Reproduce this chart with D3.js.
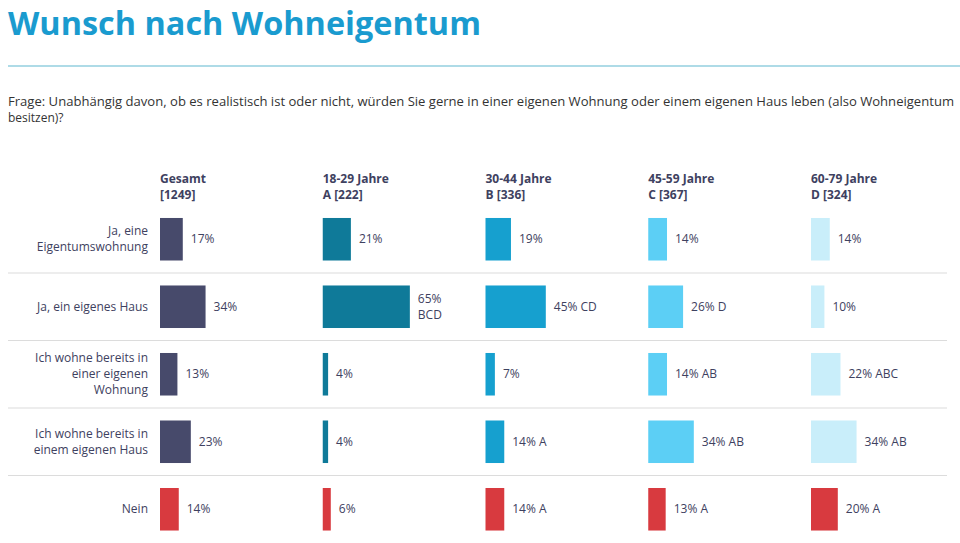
<!DOCTYPE html>
<html><head><meta charset="utf-8">
<script src="https://cdn.jsdelivr.net/npm/d3@7"></script>
<style>body{margin:0;background:#fff;} svg{display:block;}</style>
</head><body>
<script>
const title = "Wunsch nach Wohneigentum";
const question = ["Frage: Unabhängig davon, ob es realistisch ist oder nicht, würden Sie gerne in einer eigenen Wohnung oder einem eigenen Haus leben (also Wohneigentum", "besitzen)?"];
const categories = ["Ja, eine|Eigentumswohnung", "Ja, ein eigenes Haus", "Ich wohne bereits in|einer eigenen|Wohnung", "Ich wohne bereits in|einem eigenen Haus", "Nein"];
const groups = ["Gesamt", "18-29 Jahre", "30-44 Jahre", "45-59 Jahre", "60-79 Jahre"];
const groupSub = ["[1249]", "A [222]", "B [336]", "C [367]", "D [324]"];
const valGesamt = [17, 34, 13, 23, 14];
const valA = [21, 65, 4, 4, 6];
const valB = [19, 45, 7, 14, 14];
const valC = [14, 26, 14, 34, 13];
const valD = [14, 10, 22, 34, 20];
const sigGesamt = ["", "", "", "", ""];
const sigA = ["", "BCD", "", "", ""];
const sigB = ["", "CD", "", "A", "A"];
const sigC = ["", "D", "AB", "AB", "A"];
const sigD = ["", "", "ABC", "AB", "A"];

const series = [valGesamt, valA, valB, valC, valD];
const sigs = [sigGesamt, sigA, sigB, sigC, sigD];
const colColors = ["#474a6b", "#0f7a99", "#16a0cf", "#5ccff5", "#c9eefa"];
const neinColor = "#d83a3f";
const textColor = "#3e4160";
const font = "'Open Sans', 'DejaVu Sans', sans-serif";

const W = 960, H = 543;
const svg = d3.select("body").append("svg").attr("width", W).attr("height", H)
  .style("font-family", font);

// Title
const t = svg.append("text").attr("x", 8).attr("y", 35).text(title)
  .attr("fill", "#1a9bcf").attr("font-weight", "bold").attr("font-size", 33);
t.attr("textLength", 473).attr("lengthAdjust", "spacingAndGlyphs");
svg.append("line").attr("x1", 8).attr("x2", 960).attr("y1", 66).attr("y2", 66)
  .attr("stroke", "#93cfdf").attr("stroke-width", 1.5);

// Question
question.forEach((q, i) => {
  const qt = svg.append("text").attr("x", 8).attr("y", 106 + i * 16).text(q)
    .attr("fill", "#333").attr("font-size", 12);
  if (i === 0) qt.attr("textLength", 946).attr("lengthAdjust", "spacingAndGlyphs");
});

// Scales
const colX = d3.scalePoint().domain(groups).range([160, 811]);
const rowY = d3.scaleBand().domain(categories).range([206.5, 542]).paddingInner(0.37).paddingOuter(0.17);
const x = d3.scaleLinear().domain([0, 100]).range([0, 134]);

// Separators
categories.slice(1).forEach(c => {
  const yy = rowY(c) - rowY.step() * rowY.paddingInner() / 2;
  svg.append("line").attr("x1", 8).attr("x2", 947).attr("y1", yy).attr("y2", yy)
    .attr("stroke", "#dcdcdc").attr("stroke-width", 1.2);
});

// Column headers
groups.forEach((g, i) => {
  const hx = colX(g);
  svg.append("text").attr("x", hx).attr("y", 183).text(g)
    .attr("font-weight", "bold").attr("font-size", 12).attr("fill", textColor);
  svg.append("text").attr("x", hx).attr("y", 199).text(groupSub[i])
    .attr("font-weight", "bold").attr("font-size", 12).attr("fill", textColor);
});

// Row labels
categories.forEach(c => {
  const lines = c.split("|");
  const cy = rowY(c) + rowY.bandwidth() / 2;
  const y0 = cy - (lines.length - 1) * 8;
  lines.forEach((l, j) => {
    svg.append("text").attr("x", 148).attr("y", y0 + j * 16).attr("dy", "0.35em")
      .attr("text-anchor", "end").attr("font-size", 12).attr("fill", textColor).text(l);
  });
});

// Bars
groups.forEach((g, gi) => {
  const gx = colX(g);
  categories.forEach((c, ci) => {
    const v = series[gi][ci];
    const s = sigs[gi][ci];
    const col = ci === categories.length - 1 ? neinColor : colColors[gi];
    svg.append("rect").attr("x", gx).attr("y", rowY(c)).attr("width", x(v))
      .attr("height", rowY.bandwidth()).attr("fill", col);
    const lx = gx + x(v) + 8;
    const cy = rowY(c) + rowY.bandwidth() / 2;
    const full = v + "%" + (s ? " " + s : "");
    const tt = svg.append("text").attr("x", lx).attr("y", cy).attr("dy", "0.35em")
      .attr("font-size", 12).attr("fill", textColor).text(full);
    const nextStart = gi < groups.length - 1 ? colX(groups[gi + 1]) : W;
    if (s && lx + tt.node().getComputedTextLength() > nextStart - 30) {
      tt.text(null);
      [v + "%", s].forEach((l, j) => {
        tt.append("tspan").attr("x", lx).attr("y", cy - 8 + j * 16).attr("dy", "0.35em").text(l);
      });
    }
  });
});
</script>
</body></html>
